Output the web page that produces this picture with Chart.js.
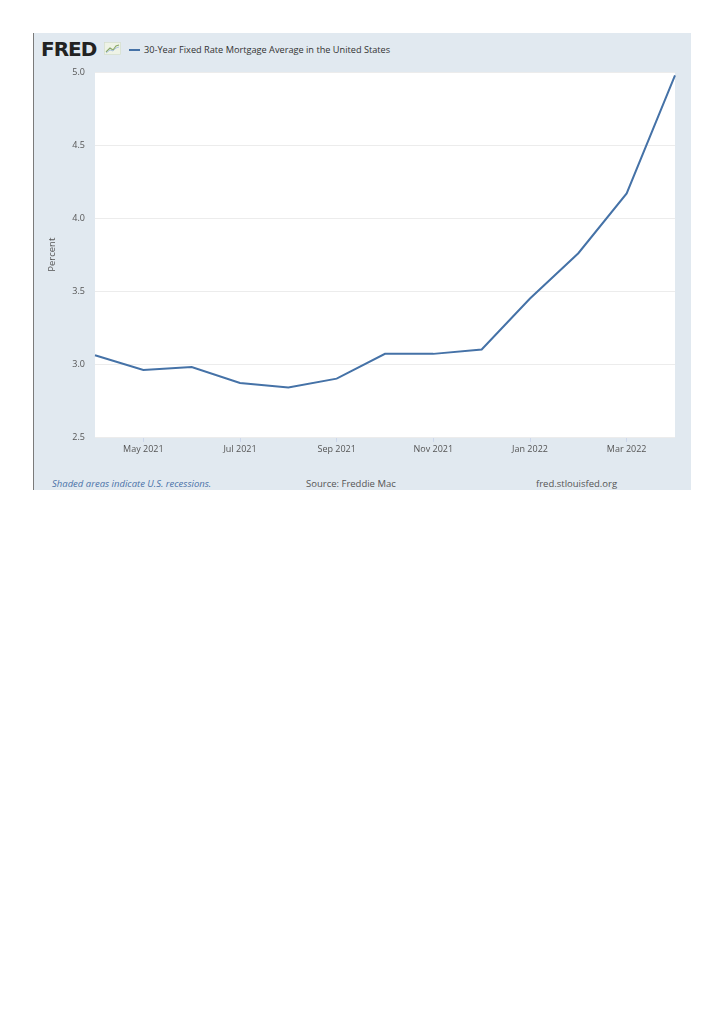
<!DOCTYPE html>
<html>
<head>
<meta charset="utf-8">
<script src="https://cdn.jsdelivr.net/npm/chart.js@4"></script>
<style>
  html, body { margin: 0; padding: 0; background: #fff; }
  body { width: 724px; height: 1024px; position: relative; font-family: "Open Sans", sans-serif; }
  #panel {
    position: absolute; left: 33px; top: 33px; width: 657px; height: 457px;
    background: #e1e9f0; border-left: 1.5px solid #7a7a7a;
  }
  #logo {
    position: absolute; left: 7px; top: 4px; font-family: "DejaVu Sans", sans-serif;
    font-weight: bold; font-size: 20px; letter-spacing: -1px; color: #222;
  }
  #logoIcon { position: absolute; left: 70px; top: 9px; }
  #legend {
    position: absolute; left: 95px; top: 10px; font-size: 9.2px; color: #333; white-space: nowrap;
  }
  #legend .swatch {
    display: inline-block; width: 11px; height: 2px; background: #4572a7;
    vertical-align: middle; margin-right: 4px; position: relative; top: -1px;
  }
  #chartBox { position: absolute; left: 0; top: 24px; width: 657px; height: 405px; }
  .foot { position: absolute; top: 444px; font-size: 9.5px; color: #555; white-space: nowrap; }
</style>
</head>
<body>
<div id="panel">
  <div id="logo">FRED</div>
  <svg id="logoIcon" width="17" height="13" viewBox="0 0 17 13">
    <rect x="0.5" y="0.5" width="16" height="12" fill="#eef3e6" stroke="#d3dcc6" stroke-width="0.6"/>
    <polyline points="2,10 6,6 9,8 12,4 15,3" fill="none" stroke="#8aa866" stroke-width="1.1"/>
    <polyline points="2,11 6,8 9,9 12,6 15,5" fill="none" stroke="#a6c0e0" stroke-width="0.9"/>
  </svg>
  <div id="legend"><span class="swatch"></span>30-Year Fixed Rate Mortgage Average in the United States</div>
  <div id="chartBox"><canvas id="myChart"></canvas></div>
  <div class="foot" style="left:18px; color:#4a72a8; font-style:italic;">Shaded areas indicate U.S. recessions.</div>
  <div class="foot" style="left:272px;">Source: Freddie Mac</div>
  <div class="foot" style="left:502px;">fred.stlouisfed.org</div>
</div>
<script>
const months = ["Apr 2021", "May 2021", "Jun 2021", "Jul 2021", "Aug 2021", "Sep 2021", "Oct 2021",
  "Nov 2021", "Dec 2021", "Jan 2022", "Feb 2022", "Mar 2022", "Apr 2022"];
const mortgageRate = [3.06, 2.96, 2.98, 2.87, 2.84, 2.90, 3.07, 3.07, 3.10, 3.45, 3.76, 4.17, 4.98];
const xTickLabels = ["May 2021", "Jul 2021", "Sep 2021", "Nov 2021", "Jan 2022", "Mar 2022"];
const yTicks = [2.5, 3.0, 3.5, 4.0, 4.5, 5.0];

const whiteArea = {
  id: "whiteArea",
  beforeDraw(chart) {
    const a = chart.chartArea;
    const c = chart.ctx;
    c.save();
    c.fillStyle = "#ffffff";
    c.fillRect(a.left, a.top, a.right - a.left, a.bottom - a.top);
    c.restore();
  }
};

const ctx = document.getElementById("myChart").getContext("2d");
const chart = new Chart(ctx, {
  type: "line",
  data: {
    labels: months,
    datasets: [{
      label: "30-Year Fixed Rate Mortgage Average in the United States",
      data: mortgageRate,
      borderColor: "#4572a7",
      borderWidth: 2,
      pointRadius: 0,
      tension: 0,
      fill: false
    }]
  },
  options: {
    responsive: true,
    maintainAspectRatio: false,
    animation: false,
    layout: { padding: { top: 0, right: 16, left: 0, bottom: 0 } },
    plugins: {
      legend: { display: false },
      tooltip: { enabled: false }
    },
    scales: {
      x: {
        offset: false,
        border: { display: false },
        grid: {
          drawOnChartArea: false,
          tickLength: 5,
          color: c => xTickLabels.includes(months[c.index]) ? "#ccd6eb" : "rgba(0,0,0,0)"
        },
        ticks: {
          autoSkip: false,
          maxRotation: 0,
          padding: 2,
          color: "#555",
          font: { family: "Open Sans", size: 9 },
          callback: function (v, i) {
            const l = months[i];
            return xTickLabels.includes(l) ? l : "";
          }
        },
        afterFit: s => { s.height = 25; }
      },
      y: {
        min: yTicks[0],
        max: yTicks[yTicks.length - 1],
        border: { display: false },
        afterBuildTicks: s => { s.ticks = yTicks.map(v => ({ value: v })); },
        grid: { color: "#ececec", lineWidth: 1, drawTicks: false },
        ticks: {
          padding: 10,
          color: "#555",
          font: { family: "Open Sans", size: 9 },
          callback: v => v.toFixed(1)
        },
        title: {
          display: true,
          text: "Percent",
          color: "#555",
          font: { family: "Open Sans", size: 9.5 },
          padding: { top: 13, bottom: 0 }
        },
        afterFit: s => { s.width = 61; }
      }
    }
  },
  plugins: [whiteArea]
});
</script>
</body>
</html>
